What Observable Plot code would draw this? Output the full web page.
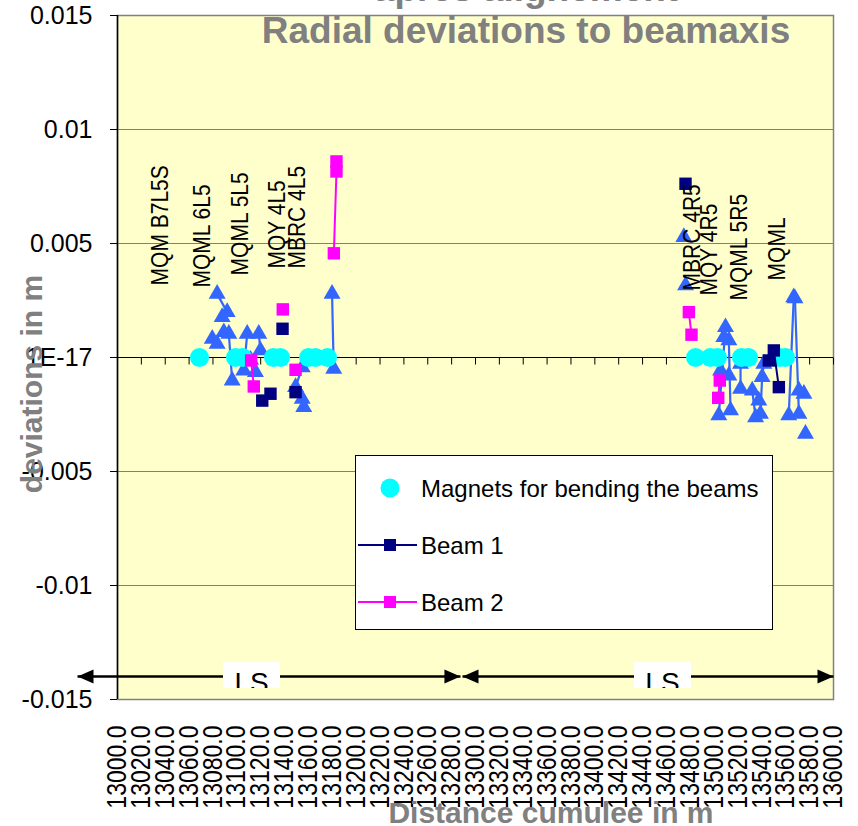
<!DOCTYPE html>
<html><head><meta charset="utf-8">
<script src="https://cdn.jsdelivr.net/npm/d3@7"></script>
<script src="https://cdn.jsdelivr.net/npm/@observablehq/plot@0.6"></script>
<style>
body{margin:0;background:#fff;}
#chart{position:relative;width:858px;height:826px;font-family:"Liberation Sans",Arial,sans-serif;overflow:hidden;}
.lsbox{position:absolute;background:#fff;overflow:hidden;}
.lsbox span{position:absolute;left:0;right:0;text-align:center;font-size:28px;line-height:28px;}
#legend{position:absolute;background:#fff;border:1px solid #000;box-sizing:border-box;}
</style></head><body><div id="chart"></div>
<script>
// ---------- data ----------
const xTicks = [13000,13020,13040,13060,13080,13100,13120,13140,13160,13180,13200,13220,13240,13260,13280,13300,13320,13340,13360,13380,13400,13420,13440,13460,13480,13500,13520,13540,13560,13580,13600];
const yTicks = [-0.015,-0.01,-0.005,0,0.005,0.01,0.015];
const yTickLabels = ["-0.015","-0.01","-0.005","1E-17","0.005","0.01","0.015"];

// magnets for bending the beams (on the axis)
const magnetX = [13068.7,13098.9,13104.8,13130.7,13136.6,13160.1,13165.9,13176.0,13484.4,13496.9,13502.8,13522.9,13528.8,13554.8,13559.8];
const magnetY = [0,0,0,0,0,0,0,0,0,0,0,0,0,0,0];

// reference series (triangles)
const refX   = [13083.5,13091.9,13087.7,13079.4,13083.5,13089.1,13093.3,13096.1,13108.7,13105.8,13111.5,13115.6,13118.4,13119.8,13154.8,13149.2,13154.8,13156.1,13179.8,13181.2,
                13474.6,13476.0,13509.5,13503.9,13508.1,13512.3,13513.7,13505.4,13512.3,13522.1,13522.1,13531.9,13534.7,13537.4,13541.6,13540.2,13538.8,13566.7,13562.5,13567.7,13571.0,13571.0,13575.2,13576.5];
const refY   = [0.00279,0.00199,0.00177,0.00082,0.00060,0.00111,0.00104,-0.00101,0.00104,-0.00057,-0.00010,-0.00064,0.00104,0.00031,-0.00043,-0.00130,-0.00181,-0.00218,0.00279,-0.00050,
                0.00528,0.00316,0.00133,-0.00254,0.00089,0.00075,-0.00232,-0.00057,-0.00079,-0.00028,-0.00137,-0.00145,-0.00262,-0.00189,-0.00028,-0.00086,-0.00247,0.00264,-0.00254,0.00259,-0.00247,-0.00145,-0.00159,-0.00335];
const refSeg = [1,1,2,3,4,5,6,6,7,7,8,9,10,10,11,11,12,12,13,13,
                14,15,16,16,17,18,18,19,20,21,21,22,22,23,24,24,24,25,25,26,26,27,28,29];

// Beam 1
const b1X   = [13138.3,13121.3,13128.2,13149.2,13476.0,13545.8,13550.0,13554.2];
const b1Y   = [0.00126,-0.00189,-0.00159,-0.00152,0.00762,-0.00013,0.00031,-0.00130];
const b1Seg = [1,2,2,3,4,5,5,5];

// Beam 2
const b2X   = [13138.5,13112.0,13114.2,13149.2,13181.3,13183.5,13183.5,13478.8,13481.0,13504.7,13503.4];
const b2Y   = [0.00211,-0.00013,-0.00127,-0.00054,0.00457,0.00816,0.00860,0.00199,0.00100,-0.00101,-0.00177];
const b2Seg = [1,2,2,3,4,4,4,5,5,6,6];

// magnet name labels
const labelText = ["MQM B7L5S","MQML 6L5","MQML 5L5","MQY 4L5","MBRC 4L5","MBRC 4R5","MQY 4R5","MQML 5R5","MQML"];
const labelX    = [13036.0,13071.0,13103.1,13133.8,13150.6,13481.9,13496.1,13521.2,13553.0];
const labelY    = [0.00316,0.00307,0.00360,0.00390,0.00390,0.00294,0.00272,0.00250,0.00338];

// long straight section arrows
const lsX1 = [12966.5,13289.1];
const lsX2 = [13287.4,13600.0];
const lsY  = -0.01399;
const lsLabelX = [13112.3,13456.7];
const lsLabel = "LS";

const legendNames  = ["Magnets for bending the beams","Beam 1","Beam 2"];
const legendColors = ["#00FFFF","#000080","#FF00FF"];
const refColor = "#3366FF";

const titleLine1 = "apres alignement";
const titleLine2 = "Radial deviations to beamaxis";
const xTitle = "Distance cumulee in m";
const yTitle = "deviations in m";

// ---------- build ----------
const FONT = '"Liberation Sans", Arial, sans-serif';
const tri = refX.map((x,i)=>({x, y: refY[i], seg: refSeg[i]}));
const mag = magnetX.map((x,i)=>({x, y: magnetY[i]}));
const b1 = b1X.map((x,i)=>({x, y: b1Y[i], seg: b1Seg[i]}));
const b2 = b2X.map((x,i)=>({x, y: b2Y[i], seg: b2Seg[i]}));
const labels = labelText.map((t,i)=>({t, x: labelX[i], y: labelY[i]}));
const ls = lsX1.map((x1,i)=>({x1, x2: lsX2[i], y: lsY}));

const tickDown = {draw(ctx){ ctx.moveTo(0,0); ctx.lineTo(0,7); }};
const arrowRight = {draw(ctx){ ctx.moveTo(0,0); ctx.lineTo(-16,-7); ctx.lineTo(-16,7); ctx.closePath(); }};
const arrowLeft = {draw(ctx){ ctx.moveTo(0,0); ctx.lineTo(16,-7); ctx.lineTo(16,7); ctx.closePath(); }};

const plot = Plot.plot({
  width: 858, height: 826,
  marginLeft: 117, marginRight: 25, marginTop: 15, marginBottom: 127,
  x: {domain: [13000, 13600]},
  y: {domain: [-0.015, 0.015]},
  style: {fontFamily: FONT, color: "black", background: "transparent", overflow: "visible"},
  marks: [
    Plot.frame({fill: "#FFFFCC"}),
    Plot.ruleY(yTicks.filter(d => d !== 0), {stroke: "#808080", strokeWidth: 1}),
    Plot.frame({stroke: "#808080", strokeWidth: 1.5}),
    Plot.ruleY([0], {stroke: "black", strokeWidth: 1}),
    Plot.ruleX([13000], {stroke: "black", strokeWidth: 1.5}),
    Plot.dot(xTicks, {x: d => d, y: 0, symbol: tickDown, stroke: "black", fill: "none", strokeWidth: 1}),
    Plot.axisY(yTicks, {tickSize: 7, tickPadding: 18, fontSize: 25, tickFormat: d => yTickLabels[yTicks.indexOf(d)], label: null}),
    Plot.axisX(xTicks, {tickRotate: -90, tickSize: 0, tickPadding: 26, fontSize: 27, tickFormat: d => d.toFixed(1), label: null, className: "xlab"}),
    Plot.line(tri, {x: "x", y: "y", z: "seg", stroke: refColor, strokeWidth: 2.2}),
    Plot.dot(tri, {x: "x", y: "y", symbol: "triangle", r: 6.3, fill: refColor}),
    Plot.dot(mag, {x: "x", y: "y", r: 9.5, fill: legendColors[0]}),
    Plot.line(b1, {x: "x", y: "y", z: "seg", stroke: legendColors[1], strokeWidth: 2}),
    Plot.dot(b1, {x: "x", y: "y", symbol: "square", r: 7, fill: legendColors[1]}),
    Plot.line(b2, {x: "x", y: "y", z: "seg", stroke: legendColors[2], strokeWidth: 2}),
    Plot.dot(b2, {x: "x", y: "y", symbol: "square", r: 7, fill: legendColors[2]}),
    Plot.text(labels, {x: "x", y: "y", text: "t", rotate: -90, textAnchor: "start", fontSize: 23, fill: "black", className: "mlab"}),
    Plot.link(ls, {x1: "x1", x2: "x2", y1: "y", y2: "y", stroke: "black", strokeWidth: 2.5}),
    Plot.dot(ls, {x: "x1", y: "y", symbol: arrowLeft, fill: "black"}),
    Plot.dot(ls, {x: "x2", y: "y", symbol: arrowRight, fill: "black"})
  ]
});

const chart = document.getElementById("chart");
chart.appendChild(plot);
const sx = plot.scale("x"), sy = plot.scale("y");

// condense rotated texts (source chart was stretched horizontally)
function condense(sel, factor) {
  d3.select(plot).selectAll(sel).each(function() {
    const len = this.getComputedTextLength();
    if (len > 0) { this.setAttribute("textLength", len * factor); this.setAttribute("lengthAdjust", "spacingAndGlyphs"); }
  });
}
condense(".xlab text", 23 / 27);
condense(".mlab text", 21 / 23);

// titles
const svg = d3.select(plot);
svg.append("text").attr("x", 526).attr("y", 1).attr("text-anchor", "middle")
  .attr("font-size", 37).attr("font-weight", "bold").attr("fill", "#808080").text(titleLine1);
svg.append("text").attr("x", 526).attr("y", 43).attr("text-anchor", "middle")
  .attr("font-size", 37).attr("font-weight", "bold").attr("fill", "#808080").text(titleLine2);
svg.append("text").attr("x", 551).attr("y", 823).attr("text-anchor", "middle")
  .attr("font-size", 30).attr("font-weight", "bold").attr("fill", "#808080").text(xTitle);
svg.append("text").attr("transform", "translate(42,384) rotate(-90)").attr("text-anchor", "middle")
  .attr("font-size", 30).attr("font-weight", "bold").attr("fill", "#808080").text(yTitle);

// LS boxes
lsLabelX.forEach(v => {
  const d = document.createElement("div");
  d.className = "lsbox";
  const cx = sx.apply(v), cy = sy.apply(lsY);
  d.style.left = (cx - 28) + "px"; d.style.width = "57px";
  d.style.top = (cy - 14) + "px"; d.style.height = "26px";
  const s = document.createElement("span");
  s.style.top = "7px"; s.textContent = lsLabel;
  d.appendChild(s); chart.appendChild(d);
});

// legend
const lg = document.createElement("div");
lg.id = "legend";
Object.assign(lg.style, {left: "355px", top: "455px", width: "418px", height: "175px"});
chart.appendChild(lg);
const ls2 = d3.select(lg).append("svg").attr("width", 418).attr("height", 175).style("position","absolute").style("left","-1px").style("top","-1px");
legendNames.forEach((name, i) => {
  const cy = 33 + i * 57;
  if (i === 0) {
    ls2.append("circle").attr("cx", 35).attr("cy", cy).attr("r", 9.5).attr("fill", legendColors[i]);
  } else {
    ls2.append("line").attr("x1", 3).attr("x2", 62).attr("y1", cy).attr("y2", cy).attr("stroke", legendColors[i]).attr("stroke-width", 2);
    ls2.append("rect").attr("x", 29).attr("y", cy - 6).attr("width", 12).attr("height", 12).attr("fill", legendColors[i]);
  }
  ls2.append("text").attr("x", 66).attr("y", cy + 8.5).attr("font-size", 24).attr("font-family", FONT).attr("fill", "black").text(name);
});
</script></body></html>
